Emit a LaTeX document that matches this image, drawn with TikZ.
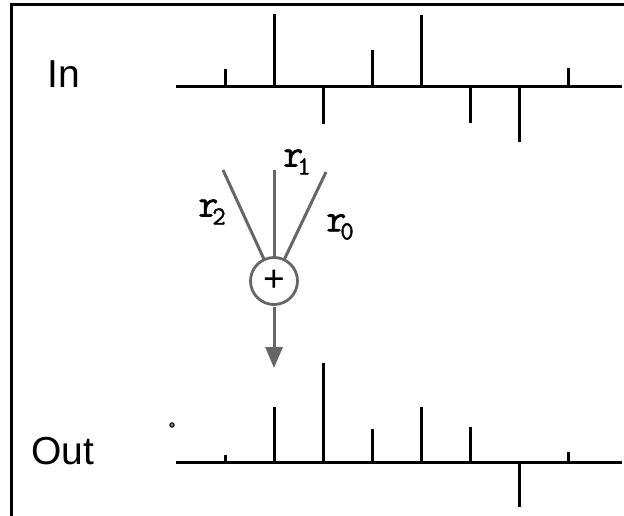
\documentclass[tikz,border=0pt]{standalone}
\usepackage{fontspec}
\setmainfont{Liberation Sans}
\newfontfamily\coeffont[FakeBold=1.6]{Latin Modern Mono}
\usetikzlibrary{arrows.meta}
\definecolor{sgray}{HTML}{666666}
\tikzset{
  axisline/.style={line width=3pt, black},
  tickline/.style={line width=3pt, black},
  feed/.style={line width=3pt, sgray},
  sumnode/.style={circle, draw=sgray, line width=2.8pt, minimum size=47pt, inner sep=0pt,
    font=\fontsize{37}{37}\selectfont},
  siglabel/.style={font=\fontsize{39}{39}\selectfont, inner sep=0pt},
  coefflabel/.style={font=\coeffont\fontsize{39}{39}\selectfont, inner sep=0pt}
}
\newcommand{\coef}[1]{r\kern-6pt\raisebox{-8pt}{\fontsize{26}{26}\selectfont #1}}
\begin{document}
\begin{tikzpicture}[x=1pt,y=-1pt]
\useasboundingbox (0,0) rectangle (624,516);
% frame
\draw[line width=3pt, line cap=rect] (11.5,520) -- (11.5,4.5) -- (626,4.5);
% labels
\node[siglabel] (in) at (64,74) {In};
\node[siglabel] (out) at (63,451) {Out};
% input axis
\coordinate (ia) at (176,87);
\coordinate (ib) at (622,87);
\draw[axisline] (ia) -- (ib);
\foreach \x/\y in {225/69, 274/14, 323/124, 372/50, 421/15, 470/123, 519/142, 568/68}
  \draw[tickline] (\x,87) -- (\x,\y);
% output axis
\coordinate (oa) at (176,462);
\coordinate (ob) at (622,462);
\draw[axisline] (oa) -- (ob);
\foreach \x/\y in {225/455, 274/407, 323/363, 372/429, 421/407, 470/427, 519/507, 568/452}
  \draw[tickline] (\x,462) -- (\x,\y);
% small dot
\draw[line width=1pt, fill=gray] (172,425) circle (2.2);
% summing node
\node[sumnode] (sum) at (274,281) {+};
\coordinate (f2) at (223,170);
\coordinate (f1) at (274,170);
\coordinate (f0) at (326,172);
\draw[feed, shorten >=-1pt] (f2) -- (sum);
\draw[feed, shorten >=-1pt] (f1) -- (sum);
\draw[feed, shorten >=-1pt] (f0) -- (sum);
\coordinate (tip) at (274,368);
\draw[feed, -{Triangle[length=21pt, width=17pt]}, shorten <=1pt] (sum) -- (tip);
% coefficient labels
\node[coefflabel] (r1) at (297,162) {\coef{1}};
\node[coefflabel] (r2) at (212,212) {\coef{2}};
\node[coefflabel] (r0) at (340,227) {\coef{0}};
\end{tikzpicture}
\end{document}
